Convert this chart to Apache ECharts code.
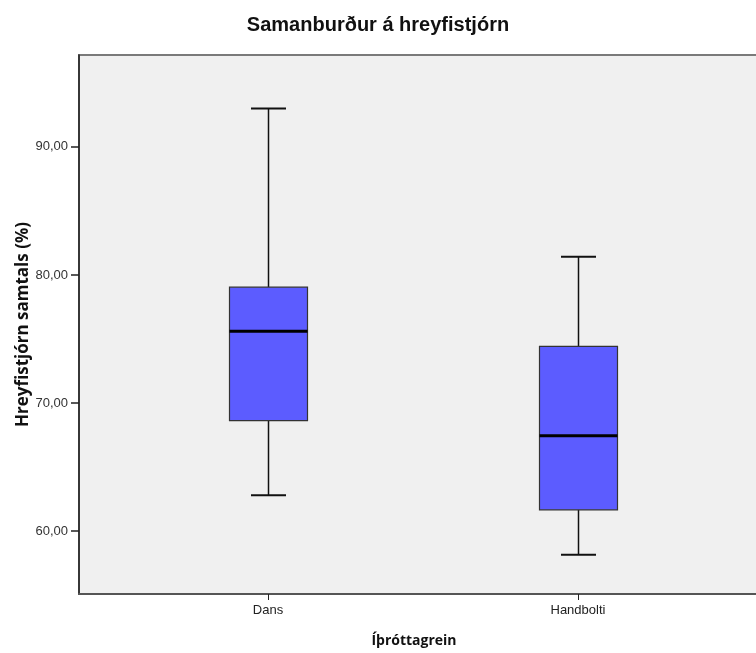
<!DOCTYPE html>
<html>
<head>
<meta charset="utf-8">
<script src="https://cdn.jsdelivr.net/npm/echarts@6/dist/echarts.min.js"></script>
<style>
  html, body { margin: 0; padding: 0; background: #fff; }
  #chart { width: 756px; height: 653px; }
</style>
</head>
<body>
<div id="chart"></div>
<script>
// Groups and their positions along the horizontal axis
const categories = ['Dans', 'Handbolti'];
const positions = [1, 2];

// Five-number summaries per group (Hreyfistjórn samtals, %)
const whiskerLow  = [62.81, 58.16];
const quartile1   = [68.64, 61.67];
const medians     = [75.61, 67.45];
const quartile3   = [79.05, 74.42];
const whiskerHigh = [93.00, 81.42];

// Vertical axis tick values
const yTicks = [60, 70, 80, 90];

const boxData = categories.map((c, i) => [
  positions[i], whiskerLow[i], quartile1[i], medians[i], quartile3[i], whiskerHigh[i]
]);

const FONT = 'Arial, "Liberation Sans", sans-serif';
const NAME_FONT = '"Open Sans", "DejaVu Sans", sans-serif';

function fmtComma(v) {
  return v.toFixed(2).replace('.', ',');
}

// One box: whiskers with short caps, filled box, thick median bar
function renderBox(params, api) {
  const x = api.value(0);
  const lo = api.coord([x, api.value(1)]);
  const q1 = api.coord([x, api.value(2)]);
  const md = api.coord([x, api.value(3)]);
  const q3 = api.coord([x, api.value(4)]);
  const hi = api.coord([x, api.value(5)]);
  const cx = Math.round(lo[0]) + 0.5;
  const boxW = 78;
  const capW = 35;
  const whisk = { stroke: '#111', lineWidth: 1.5 };
  const cap = { stroke: '#111', lineWidth: 2 };
  return {
    type: 'group',
    children: [
      { type: 'line', shape: { x1: cx, y1: hi[1], x2: cx, y2: q3[1] }, style: whisk },
      { type: 'line', shape: { x1: cx, y1: q1[1], x2: cx, y2: lo[1] }, style: whisk },
      { type: 'line', shape: { x1: cx - capW / 2, y1: hi[1], x2: cx + capW / 2, y2: hi[1] }, style: cap },
      { type: 'line', shape: { x1: cx - capW / 2, y1: lo[1], x2: cx + capW / 2, y2: lo[1] }, style: cap },
      {
        type: 'rect',
        shape: { x: cx - boxW / 2, y: q3[1], width: boxW, height: q1[1] - q3[1] },
        style: { fill: '#5c5cff', stroke: '#333', lineWidth: 1.2 }
      },
      { type: 'line', shape: { x1: cx - boxW / 2, y1: md[1], x2: cx + boxW / 2, y2: md[1] }, style: { stroke: '#000', lineWidth: 3 } }
    ]
  };
}

const chart = echarts.init(document.getElementById('chart'), null, { renderer: 'canvas' });

chart.setOption({
  animation: false,
  backgroundColor: '#ffffff',
  title: {
    text: 'Samanburður á hreyfistjórn',
    left: 'center',
    top: 10,
    textStyle: { fontFamily: FONT, fontSize: 20, fontWeight: 'bold', color: '#111' }
  },
  grid: {
    left: 79,
    top: 55,
    width: 688,
    height: 539,
    outerBoundsMode: 'none',
    containLabel: false,
    show: true,
    backgroundColor: '#f0f0f0',
    borderColor: '#7a7a7a',
    borderWidth: 2
  },
  xAxis: {
    type: 'value',
    min: 0.39,
    max: 2.61,
    name: 'Íþróttagrein',
    nameLocation: 'middle',
    nameGap: 40,
    nameMoveOverlap: false,
    nameTextStyle: { fontFamily: NAME_FONT, fontSize: 14, fontWeight: 'bold', color: '#111', padding: [0, 18, 0, 0] },
    axisLine: { show: true, onZero: false, lineStyle: { color: '#555', width: 2 } },
    axisTick: { show: true, length: 6, customValues: positions, lineStyle: { color: '#222', width: 1 } },
    axisLabel: {
      customValues: positions,
      margin: 10,
      fontFamily: FONT,
      fontSize: 13,
      color: '#222',
      formatter: v => categories[positions.indexOf(Math.round(v))] || ''
    },
    splitLine: { show: false }
  },
  yAxis: {
    type: 'value',
    min: 55.1,
    max: 97.17,
    name: 'Hreyfistjórn samtals (%)',
    nameLocation: 'middle',
    nameGap: 47,
    nameMoveOverlap: false,
    nameTextStyle: { fontFamily: NAME_FONT, fontSize: 17, fontWeight: 'bold', color: '#111' },
    axisLine: { show: true, onZero: false, lineStyle: { color: '#222', width: 1.5 } },
    axisTick: { show: true, length: 8, customValues: yTicks, lineStyle: { color: '#222', width: 1.5 } },
    axisLabel: {
      customValues: yTicks,
      margin: 11,
      fontFamily: FONT,
      fontSize: 13,
      color: '#333',
      formatter: v => fmtComma(v)
    },
    splitLine: { show: false }
  },
  series: [{
    type: 'custom',
    renderItem: renderBox,
    encode: { x: 0, y: [1, 2, 3, 4, 5] },
    data: boxData,
    clip: true
  }]
});
</script>
</body>
</html>
